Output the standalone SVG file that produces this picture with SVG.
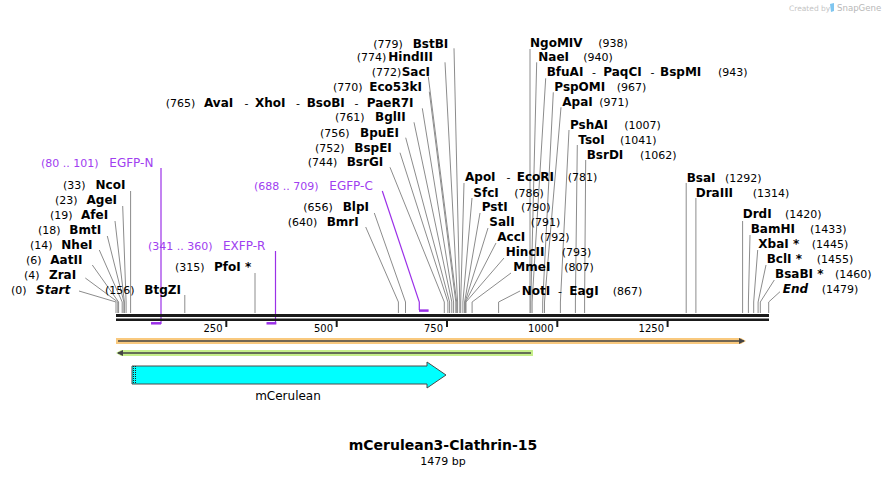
<svg xmlns="http://www.w3.org/2000/svg" width="886" height="477" viewBox="0 0 886 477">
<defs>
<style>
text{font-family:"DejaVu Sans","Liberation Sans",sans-serif;fill:#000}
.e{font-size:12px;font-weight:bold}
.ei{font-size:12px;font-weight:bold;font-style:italic}
.n{font-size:11px}
.d{font-size:11px}
.p{font-size:12px;fill:#a040f0}
.pn{font-size:11px;fill:#a040f0}
.tk{font-size:10px;text-anchor:end}
.cl{fill:none;stroke:#8c8c8c;stroke-width:1}
.pl{fill:none;stroke:#9b30e8;stroke-width:1.2}
.pb{stroke:#9b30e8;stroke-width:2.5}
.bb{stroke:#1a1a1a}
.tick{stroke:#1a1a1a;stroke-width:2}
</style>
<marker id="ah" markerWidth="6" markerHeight="6" refX="5" refY="3" orient="auto" markerUnits="userSpaceOnUse">
<path d="M0,0 L6,3 L0,6 Z" fill="#444"/>
</marker>
</defs>
<rect width="886" height="477" fill="#fff"/>

<g id="watermark">
<text x="789" y="10.5" style="font-size:7.5px;fill:#c4c4c4">Created by</text>
<path d="M830,4 L834,3 L834,11 L831,12 Z" fill="#7fc6f0"/>
<text x="837" y="10.5" style="font-size:8.6px;fill:#b8b8b8">SnapGene</text>
</g>

<g id="connectors">
<!-- left cluster -->
<path class="cl" d="M130.6,191 V313"/>
<path class="cl" d="M122.7,206 L126.1,302 V313"/>
<path class="cl" d="M115,221 L124.4,302 V313"/>
<path class="cl" d="M107.3,236 L123.9,302 V313"/>
<path class="cl" d="M99.3,250 L122.2,302 V313"/>
<path class="cl" d="M92.3,265 L118.6,302 V313"/>
<path class="cl" d="M85.3,278 L117.8,302 V313"/>
<path class="cl" d="M79,291 L116,302 V313"/>
<path class="cl" d="M184.8,295 V313"/>
<path class="cl" d="M255,273 V313"/>
<path class="cl" d="M365.7,227 L398.4,302 V313"/>
<path class="cl" d="M374.3,213 L405.5,302 V313"/>
<!-- top center cluster -->
<path class="cl" d="M454,48.3 L459.8,302 V313"/>
<path class="cl" d="M445,62.3 L457.6,302 V313"/>
<path class="cl" d="M428.3,76.7 L456.7,302 V313"/>
<path class="cl" d="M429.3,91.7 L455.8,302 V313"/>
<path class="cl" d="M422.3,108.3 L453.6,302 V313"/>
<path class="cl" d="M414,122.3 L451.8,302 V313"/>
<path class="cl" d="M405.7,137.7 L449.6,302 V313"/>
<path class="cl" d="M400,152.7 L447.9,302 V313"/>
<path class="cl" d="M390,167.3 L444.3,302 V313"/>
<!-- right lower cluster -->
<path class="cl" d="M464,183 L460.7,302 V313"/>
<path class="cl" d="M472,198 L462.9,302 V313"/>
<path class="cl" d="M480,213 L464.6,302 V313"/>
<path class="cl" d="M488,228 L465.1,302 V313"/>
<path class="cl" d="M496,243 L465.5,302 V313"/>
<path class="cl" d="M504,258 L466,302 V313"/>
<path class="cl" d="M511,273 L472.1,302 V313"/>
<path class="cl" d="M520,291 L498.6,302 V313"/>
<!-- top right cluster -->
<path class="cl" d="M530,49 V313"/>
<path class="cl" d="M536.7,62.3 L530.8,302 V313"/>
<path class="cl" d="M545.7,78.3 L532.1,302 V313"/>
<path class="cl" d="M553.3,92.3 L542.7,302 V313"/>
<path class="cl" d="M561,107.3 L544.5,302 V313"/>
<path class="cl" d="M569,130 L560.4,302 V313"/>
<path class="cl" d="M577.3,145 L575.4,302 V313"/>
<path class="cl" d="M585.7,160 L584.6,302 V313"/>
<!-- right cluster -->
<path class="cl" d="M686.2,183 V313"/>
<path class="cl" d="M695.9,198 V313"/>
<path class="cl" d="M742.6,221 V313"/>
<path class="cl" d="M750,235 L748.4,302 V313"/>
<path class="cl" d="M757.7,250 L753.7,302 V313"/>
<path class="cl" d="M766,265 L758.1,302 V313"/>
<path class="cl" d="M774.3,280 L760.3,302 V313"/>
<path class="cl" d="M780,291.7 L768.7,302 V313"/>
<!-- primer connectors -->
<path class="pl" d="M161,168 V324"/>
<path class="pl" d="M275.5,251 V324"/>
<path class="pl" d="M382.3,191 L419.3,302 V310"/>
</g>

<g id="backbone">
<line class="bb" x1="116" y1="315.5" x2="769" y2="315.5" stroke-width="3"/>
<line class="bb" x1="116" y1="319.8" x2="769" y2="319.8" stroke-width="2.4"/>
<line class="tick" x1="226.3" y1="320" x2="226.3" y2="327"/>
<line class="tick" x1="336.7" y1="320" x2="336.7" y2="327"/>
<line class="tick" x1="447" y1="320" x2="447" y2="327"/>
<line class="tick" x1="557.3" y1="320" x2="557.3" y2="327"/>
<line class="tick" x1="667.6" y1="320" x2="667.6" y2="327"/>
<text class="tk" x="222.5" y="332">250</text>
<text class="tk" x="333" y="332">500</text>
<text class="tk" x="443" y="332">750</text>
<text class="tk" x="553.5" y="332">1000</text>
<text class="tk" x="664" y="332">1250</text>
</g>

<g id="primer-EGFP-N">
<line class="pb" x1="151" y1="323.3" x2="161" y2="323.3"/>
<text class="pn" x="41" y="166.5">(80 .. 101)</text>
<text class="p" x="109.3" y="166.5">EGFP-N</text>
</g>
<g id="primer-EXFP-R">
<line class="pb" x1="266.5" y1="323.3" x2="276.3" y2="323.3"/>
<text class="pn" x="148" y="249.5">(341 .. 360)</text>
<text class="p" x="223" y="249.5">EXFP-R</text>
</g>
<g id="primer-EGFP-C">
<line class="pb" x1="419" y1="310.6" x2="428.6" y2="310.6"/>
<text class="pn" x="254" y="189.5">(688 .. 709)</text>
<text class="p" x="329.3" y="189.5">EGFP-C</text>
</g>

<g id="site-Start"><text class="n" x="11" y="294">(0)</text><text class="ei" x="36" y="294">Start</text></g>
<g id="site-ZraI"><text class="n" x="24" y="279">(4)</text><text class="e" x="49" y="279">ZraI</text></g>
<g id="site-AatII"><text class="n" x="26" y="264">(6)</text><text class="e" x="50.3" y="264">AatII</text></g>
<g id="site-NheI"><text class="n" x="30" y="249">(14)</text><text class="e" x="61.3" y="249">NheI</text></g>
<g id="site-BmtI"><text class="n" x="38" y="234">(18)</text><text class="e" x="69.3" y="234">BmtI</text></g>
<g id="site-AfeI"><text class="n" x="50" y="219">(19)</text><text class="e" x="81" y="219">AfeI</text></g>
<g id="site-AgeI"><text class="n" x="55" y="204">(23)</text><text class="e" x="86.5" y="204">AgeI</text></g>
<g id="site-NcoI"><text class="n" x="63" y="189">(33)</text><text class="e" x="95.5" y="189">NcoI</text></g>
<g id="site-BtgZI"><text class="n" x="105" y="294">(156)</text><text class="e" x="144.3" y="294">BtgZI</text></g>
<g id="site-PfoI"><text class="n" x="175" y="271">(315)</text><text class="e" x="214" y="271">PfoI *</text></g>
<g id="site-BmrI"><text class="n" x="287.7" y="226">(640)</text><text class="e" x="326.7" y="226">BmrI</text></g>
<g id="site-BlpI"><text class="n" x="303.3" y="211">(656)</text><text class="e" x="342.7" y="211">BlpI</text></g>

<g id="site-BsrGI"><text class="n" x="307.7" y="166">(744)</text><text class="e" x="346.7" y="166">BsrGI</text></g>
<g id="site-BspEI"><text class="n" x="315" y="151.5">(752)</text><text class="e" x="354.3" y="151.5">BspEI</text></g>
<g id="site-BpuEI"><text class="n" x="320" y="136.5">(756)</text><text class="e" x="360" y="136.5">BpuEI</text></g>
<g id="site-BglII"><text class="n" x="335" y="121">(761)</text><text class="e" x="375" y="121">BglII</text></g>
<g id="site-AvaI"><text class="n" x="165.7" y="106.5">(765)</text><text class="e" x="204" y="106.5">AvaI</text><text class="d" x="244.5" y="106.5">-</text><text class="e" x="255" y="106.5">XhoI</text><text class="d" x="296" y="106.5">-</text><text class="e" x="306.7" y="106.5">BsoBI</text><text class="d" x="354.5" y="106.5">-</text><text class="e" x="366.7" y="106.5">PaeR7I</text></g>
<g id="site-Eco53kI"><text class="n" x="333" y="91">(770)</text><text class="e" x="369.3" y="91">Eco53kI</text></g>
<g id="site-SacI"><text class="n" x="371.7" y="76">(772)</text><text class="e" x="401.7" y="76">SacI</text></g>
<g id="site-HindIII"><text class="n" x="356.7" y="61">(774)</text><text class="e" x="388.3" y="61">HindIII</text></g>
<g id="site-BstBI"><text class="n" x="373.3" y="47.5">(779)</text><text class="e" x="412.7" y="47.5">BstBI</text></g>

<g id="site-EcoRI"><text class="e" x="465" y="181">ApoI</text><text class="d" x="506.5" y="181">-</text><text class="e" x="516.7" y="181">EcoRI</text><text class="n" x="567.7" y="181">(781)</text></g>
<g id="site-SfcI"><text class="e" x="473.3" y="196.5">SfcI</text><text class="n" x="514.3" y="196.5">(786)</text></g>
<g id="site-PstI"><text class="e" x="481.7" y="211">PstI</text><text class="n" x="521" y="211">(790)</text></g>
<g id="site-SalI"><text class="e" x="489.3" y="226">SalI</text><text class="n" x="530.7" y="226">(791)</text></g>
<g id="site-AccI"><text class="e" x="497.3" y="241">AccI</text><text class="n" x="540" y="241">(792)</text></g>
<g id="site-HincII"><text class="e" x="505.7" y="256">HincII</text><text class="n" x="561.7" y="256">(793)</text></g>
<g id="site-MmeI"><text class="e" x="513.3" y="271">MmeI</text><text class="n" x="564.3" y="271">(807)</text></g>
<g id="site-NotI"><text class="e" x="521.7" y="294.5">NotI</text><text class="d" x="558" y="294.5">-</text><text class="e" x="569.3" y="294.5">EagI</text><text class="n" x="612.7" y="294.5">(867)</text></g>

<g id="site-NgoMIV"><text class="e" x="530" y="46.5">NgoMIV</text><text class="n" x="598.3" y="46.5">(938)</text></g>
<g id="site-NaeI"><text class="e" x="538.3" y="61">NaeI</text><text class="n" x="583.3" y="61">(940)</text></g>
<g id="site-BfuAI"><text class="e" x="546.7" y="75.7">BfuAI</text><text class="d" x="592" y="75.7">-</text><text class="e" x="603.3" y="75.7">PaqCI</text><text class="d" x="650.5" y="75.7">-</text><text class="e" x="660" y="75.7">BspMI</text><text class="n" x="718" y="75.7">(943)</text></g>
<g id="site-PspOMI"><text class="e" x="554.3" y="91">PspOMI</text><text class="n" x="616.7" y="91">(967)</text></g>
<g id="site-ApaI"><text class="e" x="562.3" y="106">ApaI</text><text class="n" x="599.3" y="106">(971)</text></g>
<g id="site-PshAI"><text class="e" x="570" y="129.4">PshAI</text><text class="n" x="624.3" y="129.4">(1007)</text></g>
<g id="site-TsoI"><text class="e" x="578.3" y="144.4">TsoI</text><text class="n" x="620" y="144.4">(1041)</text></g>
<g id="site-BsrDI"><text class="e" x="586.7" y="159.4">BsrDI</text><text class="n" x="640" y="159.4">(1062)</text></g>

<g id="site-BsaI"><text class="e" x="686.7" y="181.7">BsaI</text><text class="n" x="725" y="181.7">(1292)</text></g>
<g id="site-DraIII"><text class="e" x="695.7" y="196.7">DraIII</text><text class="n" x="752.7" y="196.7">(1314)</text></g>
<g id="site-DrdI"><text class="e" x="742.7" y="218.4">DrdI</text><text class="n" x="785" y="218.4">(1420)</text></g>
<g id="site-BamHI"><text class="e" x="750.7" y="233.4">BamHI</text><text class="n" x="810" y="233.4">(1433)</text></g>
<g id="site-XbaI"><text class="e" x="758.3" y="248.4">XbaI *</text><text class="n" x="811.7" y="248.4">(1445)</text></g>
<g id="site-BclI"><text class="e" x="766.7" y="263.4">BclI *</text><text class="n" x="816.7" y="263.4">(1455)</text></g>
<g id="site-BsaBI"><text class="e" x="775" y="278.4">BsaBI *</text><text class="n" x="835" y="278.4">(1460)</text></g>
<g id="site-End"><text class="ei" x="782.7" y="293.4">End</text><text class="n" x="821.7" y="293.4">(1479)</text></g>

<g id="feature-orange">
<path d="M116,338 L741,338 L746,341 L741,344 L116,344 Z" fill="#f9c97e"/>
<line x1="118" y1="341" x2="744" y2="341" stroke="#444" stroke-width="1.6" marker-end="url(#ah)"/>
</g>
<g id="feature-green">
<path d="M121,350 L533,350 L533,356 L121,356 L116,353 Z" fill="#c6ef8a"/>
<line x1="531" y1="353" x2="118" y2="353" stroke="#444" stroke-width="1.6" marker-end="url(#ah)"/>
</g>
<g id="feature-mCerulean">
<path d="M132,366 L427,366 L427,362 L446,375 L427,388 L427,384 L132,384 Z" fill="#00ffff" stroke="#4a4a4a" stroke-width="1"/>
<line x1="133.5" y1="366" x2="133.5" y2="384" stroke="#222" stroke-width="1" stroke-dasharray="1,1"/>
<line x1="135.5" y1="366" x2="135.5" y2="384" stroke="#222" stroke-width="1" stroke-dasharray="1,1"/>
<text x="288" y="399.5" style="font-size:12px;text-anchor:middle">mCerulean</text>
</g>

<g id="title">
<text x="443" y="450" style="font-size:14px;font-weight:bold;text-anchor:middle">mCerulean3-Clathrin-15</text>
<text x="443" y="465" style="font-size:11px;text-anchor:middle">1479 bp</text>
</g>
</svg>
